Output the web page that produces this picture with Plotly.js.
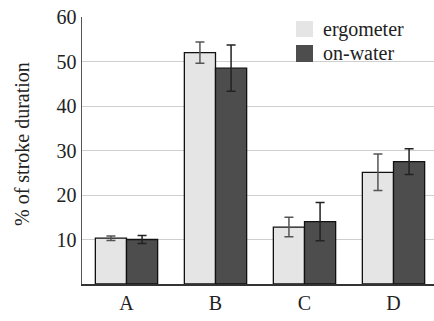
<!DOCTYPE html>
<html><head><meta charset="utf-8">
<script src="https://cdn.plot.ly/plotly-3.0.1.min.js"></script>
</head><body style="margin:0"><div id="c"></div>
<script>
var categories = ['A', 'B', 'C', 'D'];
var ergometer = [10.3, 52.0, 12.8, 25.1];
var ergometerErr = [0.5, 2.4, 2.2, 4.1];
var onWater = [10.0, 48.5, 14.0, 27.5];
var onWaterErr = [0.9, 5.2, 4.3, 2.9];
var seriesNames = ['ergometer', 'on-water'];
var yTicks = [10, 20, 30, 40, 50, 60];
var yTitle = '% of stroke duration';

var FAM = 'Liberation Serif';
var traces = [
  {type:'bar', x:categories, y:ergometer, name:seriesNames[0],
   marker:{color:'#e5e5e5', line:{color:'#111', width:1.3}},
   error_y:{type:'data', array:ergometerErr, color:'#555', thickness:1.5, width:4.5}},
  {type:'bar', x:categories, y:onWater, name:seriesNames[1],
   marker:{color:'#4d4d4d', line:{color:'#111', width:1.3}},
   error_y:{type:'data', array:onWaterErr, color:'#222', thickness:1.5, width:4.5}}
];
var layout = {
  width:434, height:321,
  margin:{l:82, r:0, t:17, b:37},
  barmode:'group', bargap:0.3, bargroupgap:0,
  showlegend:false,
  font:{family:FAM, color:'#222', size:20},
  xaxis:{range:[-0.5, 3.455], showline:true, linecolor:'#333', linewidth:1.5, showgrid:false},
  yaxis:{range:[0,60], tickvals:yTicks, showline:true, linecolor:'#555', linewidth:1.5,
         gridcolor:'#cfcfcf', zeroline:false},
  shapes:[
    {type:'rect', xref:'paper', yref:'paper', x0:(296-82)/352, x1:(313-82)/352,
     y0:(284-37)/267, y1:(284-21)/267, fillcolor:'#e5e5e5', line:{width:0}},
    {type:'rect', xref:'paper', yref:'paper', x0:(296-82)/352, x1:(313-82)/352,
     y0:(284-62)/267, y1:(284-45)/267, fillcolor:'#4d4d4d', line:{width:0}}
  ],
  annotations:[
    {xref:'paper', yref:'paper', x:(321-82)/352, y:(284-29)/267, xanchor:'left', yanchor:'middle',
     text:seriesNames[0], showarrow:false},
    {xref:'paper', yref:'paper', x:(321-82)/352, y:(284-53)/267, xanchor:'left', yanchor:'middle',
     text:seriesNames[1], showarrow:false},
    {xref:'paper', yref:'paper', x:(22-82)/352, y:(284-144)/267, xanchor:'center', yanchor:'middle',
     text:yTitle, textangle:-90, showarrow:false}
  ]
};
Plotly.newPlot('c', traces, layout, {staticPlot:true});
</script></body></html>
